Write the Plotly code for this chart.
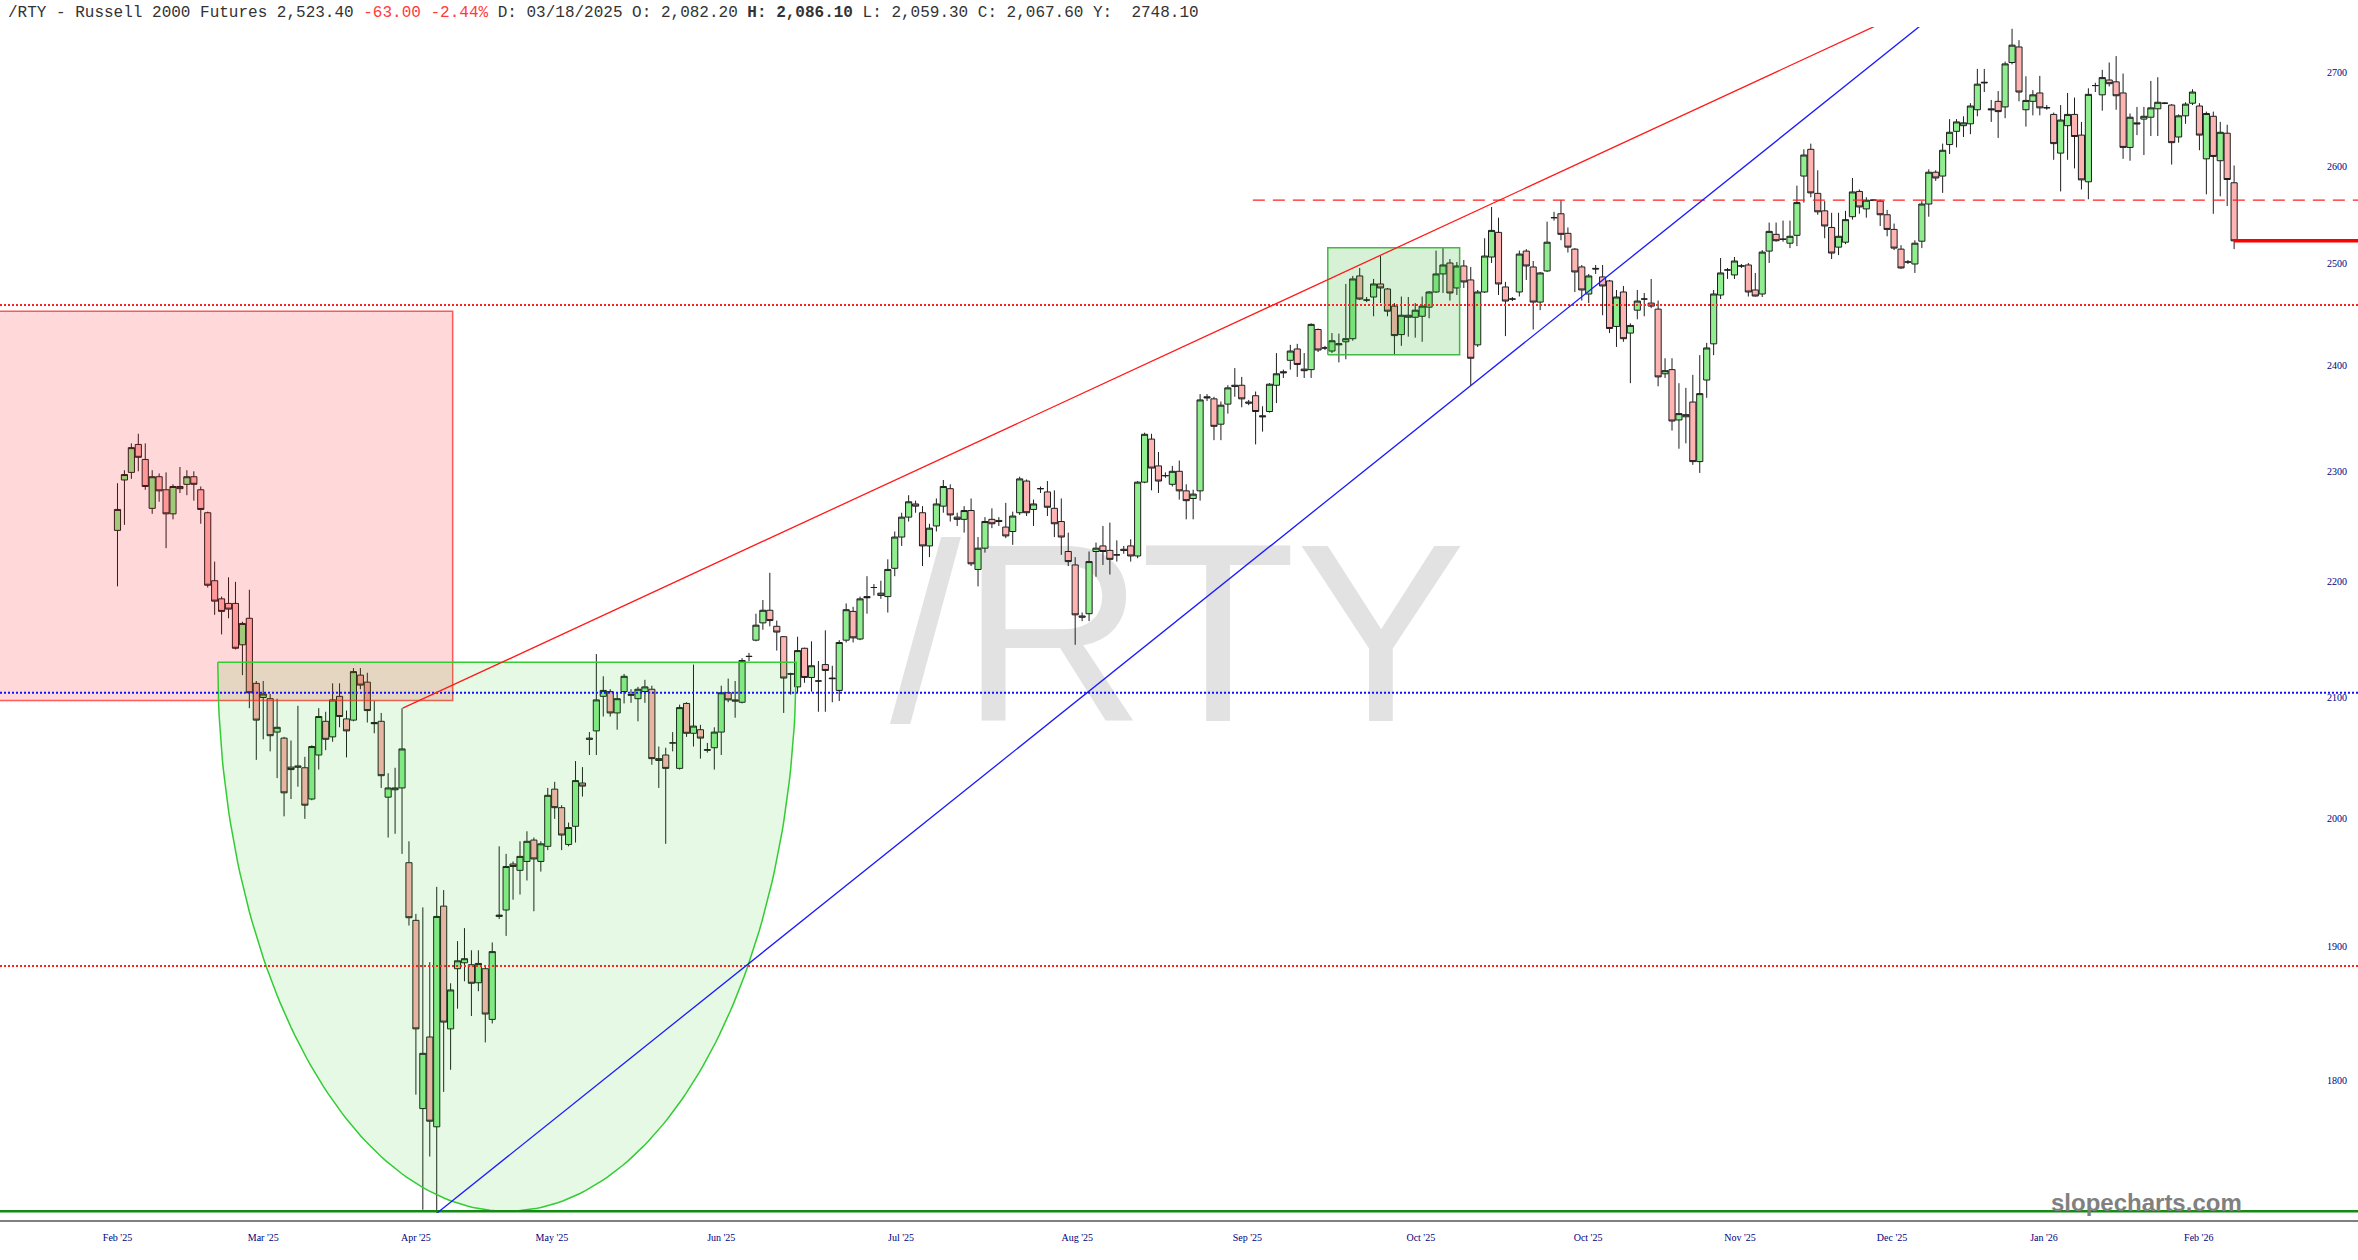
import numpy as np
import plotly.graph_objects as go

# daily bars incl. the short Sunday-evening sessions, Feb 2025 -> Feb 2026
opens = [2246, 2292, 2299, 2325, 2311, 2266, 2295, 2283, 2261, 2286, 2288, 2295, 2283, 2262, 2201, 2185, 2181, 2181, 2145, 2168,
         2112, 2100, 2099, 2071, 2066, 2042, 2043, 2041.5, 2016, 2052, 2080, 2067, 2101, 2082, 2081, 2119, 2113, 2079, 2080, 2017.5,
         2023.5, 2025, 1965, 1920, 1780, 1832, 1767, 1931, 1838, 1883, 1887.5, 1886, 1872.4, 1883, 1845, 1923, 1928, 1964, 1959, 1966,
         1983, 1966, 1978, 2024, 2009, 1979.5, 1994, 2029, 2066, 2072, 2101, 2105, 2087, 2105, 2102.5, 2099, 2105, 2107, 2049, 2052,
         2062, 2041, 2095, 2070, 2073, 2056.5, 2058, 2071, 2104, 2098, 2096, 2135, 2149, 2164, 2175, 2161, 2152, 2120, 2109, 2142,
         2117, 2114, 2128, 2116.5, 2106, 2149, 2174, 2150, 2187, 2195, 2188, 2187, 2212, 2240, 2258, 2270, 2262, 2232, 2250, 2268,
         2284, 2258, 2256, 2264, 2211, 2230, 2256, 2255, 2249, 2245, 2262, 2291, 2265, 2284, 2281, 2266, 2254, 2227, 2215, 2170,
         2172, 2227, 2232, 2228, 2224, 2229, 2232, 2223, 2290, 2330, 2305, 2296, 2288, 2300, 2282, 2275, 2282, 2370, 2368, 2344,
         2363, 2381, 2381, 2365, 2371, 2352, 2356, 2381, 2394, 2405, 2416, 2396.5, 2396, 2435, 2417, 2414, 2420, 2423, 2426, 2488,
         2464, 2467, 2480, 2475, 2458, 2430, 2447, 2447, 2448, 2457, 2472, 2490, 2501, 2476, 2498, 2484, 2420, 2472, 2507, 2532,
         2477, 2465, 2472, 2513, 2497, 2462, 2493, 2547, 2551, 2531, 2515, 2497, 2470, 2495.6, 2487, 2483, 2438, 2472, 2431.5, 2454,
         2465, 2461, 2455, 2392, 2396, 2348, 2351, 2365, 2309, 2386, 2421, 2469, 2494, 2489, 2498, 2499, 2474, 2470, 2513, 2530,
         2525, 2521, 2529, 2590, 2618, 2572, 2554, 2537, 2517, 2522, 2548, 2574, 2556, 2565, 2564, 2550, 2535, 2515, 2502, 2500,
         2523, 2561, 2594, 2590, 2623, 2637, 2643, 2645, 2660, 2689.6, 2661, 2669, 2663, 2711, 2728, 2660, 2669, 2678, 2662.4, 2655,
         2614, 2643, 2655, 2633, 2584, 2686, 2676, 2692, 2690, 2678, 2620, 2646, 2650, 2652, 2661, 2667, 2665, 2631, 2653.5, 2667,
         2664, 2608, 2653, 2606, 2635, 2583]
highs = [2289, 2301, 2326, 2335, 2326, 2301, 2298, 2299, 2288, 2304, 2301, 2300, 2286, 2263, 2218, 2187, 2204, 2200, 2165, 2193,
         2114, 2114, 2103, 2099, 2067, 2064, 2093, 2050.5, 2060, 2091, 2088, 2112, 2112, 2089, 2125, 2125, 2121, 2097, 2087, 2037,
         2041.5, 2091, 1982, 1925, 1930, 1888, 1946, 1943.5, 1872, 1904, 1914, 1897, 1897, 1885, 1903, 1978, 1972, 1966, 1982, 1990,
         1985, 1982, 2025, 2030, 2011, 1997, 2047, 2042, 2071, 2137, 2118, 2107, 2104, 2120, 2107, 2109, 2115, 2110, 2059, 2058,
         2071, 2094, 2096, 2128, 2077, 2062, 2075, 2110, 2116, 2114, 2133.5, 2138, 2172, 2184, 2208, 2166, 2152.5, 2121, 2152, 2142.5,
         2148, 2131, 2157.5, 2127, 2149, 2181, 2178, 2187, 2205, 2198, 2201, 2220, 2245, 2262, 2278, 2273, 2268, 2252, 2275, 2292,
         2288, 2262, 2268, 2275, 2240, 2258, 2266, 2258, 2271, 2263, 2295, 2292.5, 2274, 2286, 2291, 2282.5, 2275, 2244, 2222, 2173,
         2227, 2235, 2250, 2253, 2237, 2232, 2238, 2291, 2336, 2335, 2318, 2299, 2305, 2310, 2288, 2283, 2372.5, 2372.5, 2370, 2365.5,
         2381, 2397.5, 2389, 2367, 2375, 2361, 2383, 2412, 2396, 2420, 2421, 2412, 2441, 2436, 2419, 2431.5, 2431, 2480, 2488, 2496,
         2467, 2485, 2508, 2476, 2461, 2467.5, 2467, 2461, 2467.5, 2473, 2513.5, 2517, 2505, 2502, 2504, 2497, 2474, 2526, 2558, 2547,
         2482, 2467, 2513.5, 2515, 2503, 2492, 2543, 2553, 2565, 2537, 2516, 2499, 2490, 2499, 2499, 2484, 2474, 2478, 2441, 2474,
         2471, 2485, 2463.5, 2407, 2407, 2383, 2378.5, 2391, 2410, 2422, 2474, 2506, 2496, 2507, 2500, 2501, 2491, 2514, 2542, 2542,
         2544, 2544, 2580, 2618, 2624, 2596, 2564, 2552, 2552, 2554, 2588, 2576, 2568, 2566, 2565.5, 2555, 2541, 2519, 2504, 2524,
         2564, 2597, 2596, 2624, 2650, 2650, 2653, 2667, 2704, 2704, 2670.5, 2680, 2712, 2748, 2735.5, 2696, 2681, 2696.5, 2665, 2657,
         2665, 2678, 2673, 2647, 2683, 2689, 2703, 2711, 2718, 2699, 2656, 2663, 2663, 2691, 2695, 2668, 2666, 2655, 2668, 2682,
         2667, 2658, 2658, 2647, 2644, 2601]
lows = [2196, 2251, 2293, 2300, 2283, 2261, 2272, 2230, 2256, 2280, 2278, 2273, 2252, 2195, 2171, 2154, 2168, 2141, 2119, 2091,
        2048, 2065, 2055, 2033, 2002, 2016, 2026, 2000, 2015, 2040, 2056, 2063, 2075, 2050, 2080, 2107, 2079, 2070, 2025, 1985,
        1988, 1972, 1916, 1790, 1709, 1746, 1707, 1792, 1808, 1853, 1873.5, 1847.5, 1866, 1828, 1842, 1921, 1908, 1936, 1940, 1951,
        1927, 1958, 1975, 2000, 1975, 1978, 1981, 2018, 2052, 2052, 2084, 2084, 2073, 2095, 2095.5, 2080, 2095.5, 2044, 2025, 1980,
        2055, 2040, 2067, 2059, 2049, 2054, 2040, 2052, 2096, 2083, 2095, 2131, 2148, 2158, 2161, 2140, 2087, 2102.5, 2104, 2112.5,
        2105, 2088, 2088, 2096, 2097, 2147, 2147, 2149, 2172, 2188, 2185, 2173, 2205, 2232, 2254, 2262, 2214, 2222, 2245, 2262,
        2254, 2250, 2244, 2214, 2196, 2226, 2248, 2250, 2239, 2233, 2260, 2259, 2250, 2280, 2259, 2240, 2224, 2214, 2145, 2165.5,
        2165.5, 2204.5, 2215, 2206.5, 2218, 2225, 2218, 2221, 2289, 2282.5, 2280, 2294, 2286, 2274, 2256, 2256, 2273, 2366, 2329, 2329,
        2354, 2370, 2360, 2362, 2325, 2337, 2355, 2364, 2388, 2396, 2389, 2388, 2388, 2413, 2415, 2412, 2403, 2406, 2424, 2464,
        2462, 2448, 2461, 2448, 2410, 2419, 2428, 2427, 2423, 2446, 2471, 2471, 2463.5, 2469, 2476, 2381, 2418, 2471, 2501, 2469,
        2428.5, 2463, 2467.5, 2484, 2435, 2454, 2492, 2544, 2524, 2511.5, 2472, 2463.5, 2461, 2490, 2449, 2431.5, 2418, 2423, 2383, 2445,
        2448, 2456, 2380, 2388, 2338, 2321, 2326, 2306, 2298.5, 2369, 2410, 2465, 2485, 2485, 2496, 2467.5, 2467.5, 2467, 2501, 2522.5,
        2522.5, 2516, 2518, 2562.5, 2568, 2550, 2526, 2505, 2509, 2520, 2545, 2551, 2547, 2564, 2538.5, 2528, 2514, 2495, 2500, 2491,
        2516, 2548, 2585, 2572.5, 2613, 2620, 2631, 2634, 2653, 2679, 2647, 2630, 2651, 2709, 2669, 2642, 2654, 2654, 2660, 2607,
        2574, 2607, 2598, 2576, 2566, 2679, 2659, 2685, 2660, 2608, 2606, 2633, 2612, 2632, 2632, 2666, 2602, 2625, 2645, 2665,
        2617, 2571, 2551, 2569, 2559, 2515]
closes = [2265, 2297, 2322, 2313, 2286, 2295, 2282, 2261, 2286, 2284, 2295, 2288, 2265, 2197, 2183, 2174, 2176, 2142, 2163.5, 2104,
          2081, 2103, 2068, 2075, 2021, 2040, 2042, 2011, 2059, 2084, 2065, 2098, 2084, 2072, 2122, 2110.5, 2089, 2078, 2035, 2025,
          2025, 2057, 1922, 1838, 1820, 1771, 1923, 1843, 1867, 1889, 1890.6, 1872, 1887, 1849, 1896, 1924, 1962, 1962, 1970, 1982,
          1968, 1980, 2019, 2009, 1987, 1993, 2031, 2026.5, 2065, 2098, 2106, 2087, 2099, 2118, 2102, 2107, 2109, 2049, 2047.5, 2041,
          2062, 2091.5, 2070, 2076, 2066, 2056, 2071, 2104, 2098, 2097, 2131.5, 2135, 2162, 2175, 2166, 2156, 2116.5, 2120, 2140, 2117,
          2127, 2114, 2123, 2116, 2147, 2175.5, 2151, 2185, 2186, 2195, 2190, 2211, 2240, 2258, 2272, 2268, 2232, 2248, 2270, 2286,
          2260, 2256, 2264, 2216, 2230, 2254, 2252, 2254, 2241, 2259, 2293, 2262, 2270, 2284, 2267, 2252, 2240, 2218, 2171, 2169,
          2218, 2230, 2227, 2220, 2224, 2228, 2223, 2290, 2334.5, 2303, 2291, 2296, 2300, 2282, 2273, 2279, 2367, 2369, 2342, 2362,
          2378.5, 2380, 2368, 2364, 2356, 2351, 2382, 2392, 2393, 2414, 2401, 2395, 2440, 2415, 2417, 2424, 2421, 2426, 2485, 2465,
          2464, 2480, 2476, 2453, 2429, 2449, 2449, 2454, 2458, 2472, 2490, 2499, 2471, 2498, 2482, 2407, 2472, 2508, 2534, 2480,
          2463, 2465, 2510, 2498, 2462, 2491, 2522, 2547, 2530, 2517, 2492, 2474, 2488, 2495, 2478, 2436, 2467, 2426, 2439, 2463,
          2465, 2458, 2389, 2395, 2347, 2354, 2353, 2309, 2373, 2417, 2470, 2491, 2494, 2503, 2498, 2472, 2468, 2512, 2533, 2523.5,
          2525, 2528, 2562.5, 2612, 2572.5, 2553, 2538.5, 2511, 2528, 2545, 2573.5, 2558, 2565, 2565, 2550, 2535, 2516, 2496, 2502, 2521,
          2561, 2594, 2588, 2617, 2636, 2647, 2646, 2664, 2687.5, 2689, 2660, 2658, 2709.5, 2730, 2679, 2670, 2676, 2662, 2662, 2624,
          2649, 2655, 2631.5, 2586, 2676.5, 2686, 2694.6, 2688, 2675, 2620, 2652, 2645, 2653, 2662, 2668, 2667, 2625, 2653.5, 2666, 2679,
          2633, 2656, 2610.5, 2636, 2586.4, 2523.4]

bar_idx = list(range(len(closes)))

month_pos = [0, 21, 43, 62.6, 87, 112.9, 138.3, 162.8, 187.8, 211.9, 233.8, 255.7, 277.6, 299.9]
month_labels = ["Feb '25", "Mar '25", "Apr '25", "May '25", "Jun '25", "Jul '25", "Aug '25",
                "Sep '25", "Oct '25", "Oct '25", "Nov '25", "Dec '25", "Jan '26", "Feb '26"]
price_ticks = [1800, 1900, 2000, 2100, 2200, 2300, 2400, 2500, 2600, 2700]

# drawn levels, zones and trend lines (price units, bar-index units)
support_low = 1708
blue_level = 2104
red_level_hi = 2459
red_level_lo = 1885
resist_dash = 2565
resist_dash_from = 163.6
last_price = 2523.4
red_trend = ([41.1, 260], [2091, 2775])
blue_trend = ([46.1, 262], [1707, 2765])
pink_zone = (-20, 48.3, 2097.5, 2453)
box_zone = (174.4, 193.4, 2410.4, 2516.3)
cup_left, cup_right, cup_top, cup_bottom = 14.45, 97.8, 2130, 1708

X0, X1 = -16.93, 322.85
Y0, Y1 = 1702, 2750

fig = go.Figure()

fig.add_trace(go.Candlestick(
    x=bar_idx, open=opens, high=highs, low=lows, close=closes,
    increasing=dict(fillcolor="#90ee90", line=dict(color="#1e1e1e", width=1)),
    decreasing=dict(fillcolor="#ffb4b4", line=dict(color="#1e1e1e", width=1)),
    whiskerwidth=0, showlegend=False, hoverinfo="skip",
))


def hline(y, color, dash="solid", width=1.5, x_from=X0):
    fig.add_trace(go.Scatter(x=[x_from, X1], y=[y, y], mode="lines", hoverinfo="skip",
                             line=dict(color=color, dash=dash, width=width), showlegend=False))


def zone(x0, x1, y0, y1, fill, edge, width=1.5):
    fig.add_trace(go.Scatter(x=[x0, x1, x1, x0, x0], y=[y0, y0, y1, y1, y0], mode="lines",
                             fill="toself", fillcolor=fill, hoverinfo="skip",
                             line=dict(color=edge, width=width), showlegend=False))


# pink resistance zone
zone(*pink_zone, "rgba(255,0,0,0.15)", "rgba(255,40,40,0.75)")

# cup (lower half of an ellipse)
cx = (cup_left + cup_right) / 2
half_w = (cup_right - cup_left) / 2
lt, lb = np.log10(cup_top), np.log10(cup_bottom)
theta = np.linspace(0, np.pi, 161)
cup_x = [cup_left] + list(cx + half_w * np.cos(theta))
cup_y = [cup_top] + list(10 ** (lt - (lt - lb) * np.sin(theta)))
fig.add_trace(go.Scatter(x=cup_x, y=cup_y, mode="lines", fill="toself",
                         fillcolor="rgba(0,200,0,0.1)", line=dict(color="#33cc33", width=1.5),
                         hoverinfo="skip", showlegend=False))

# consolidation box
zone(*box_zone, "rgba(0,170,0,0.16)", "#44b844")

# horizontal levels
hline(red_level_hi, "#ff2020", dash="2px,2px", width=2)
hline(blue_level, "#1010ff", dash="2px,2px", width=2)
hline(red_level_lo, "#ff2020", dash="2px,2px", width=2)
hline(resist_dash, "#ff2020", dash="12px,8px", width=1.3, x_from=resist_dash_from)
hline(support_low, "#138a13", width=2.5)
hline(last_price, "#ff0000", width=3.5, x_from=bar_idx[-1])

# trend lines
fig.add_trace(go.Scatter(x=red_trend[0], y=red_trend[1], mode="lines", hoverinfo="skip",
                         line=dict(color="#ff1a1a", width=1.3), showlegend=False))
fig.add_trace(go.Scatter(x=blue_trend[0], y=blue_trend[1], mode="lines", hoverinfo="skip",
                         line=dict(color="#1a1aff", width=1.3), showlegend=False))

header = ("/RTY - Russell 2000 Futures 2,523.40 "
          "<span style='color:#ff3b3b'>-63.00 -2.44%</span> D: 03/18/2025 O: 2,082.20 "
          "<b>H: 2,086.10</b> L: 2,059.30 C: 2,067.60 Y:\u00a0\u00a02748.10")

fig.update_layout(
    width=2358, height=1260,
    margin=dict(l=0, r=0, t=27, b=40),
    paper_bgcolor="white", plot_bgcolor="white",
    boxgap=0.06, boxgroupgap=0.06,
    showlegend=False,
    xaxis=dict(
        range=[X0, X1], rangeslider=dict(visible=False),
        tickvals=month_pos, ticktext=month_labels,
        tickfont=dict(family="Liberation Serif, Times New Roman, serif", size=10, color="#000080"),
        ticks="outside", ticklen=7, tickcolor="rgba(0,0,0,0)",
        showgrid=False, zeroline=False,
        showline=True, linecolor="#808080", linewidth=2,
    ),
    yaxis=dict(
        type="log", range=[np.log10(Y0), np.log10(Y1)], side="right",
        tickvals=price_ticks, ticktext=[str(v) for v in price_ticks],
        ticklabelposition="inside", ticks="", ticklabelstandoff=8,
        tickfont=dict(family="Liberation Serif, Times New Roman, serif", size=10, color="#000080"),
        showgrid=False, zeroline=False, showline=False,
    ),
    shapes=[dict(
        type="rect", xref="paper", yref="paper", x0=0.3996, x1=0.5996, y0=0.4122, y1=0.6122,
        line=dict(width=0), fillcolor="rgba(0,0,0,0)", layer="below",
        label=dict(text="/RTY", textposition="middle center",
                   font=dict(family="Liberation Sans, Arial, sans-serif", size=255, color="#e2e2e2")),
    )],
    annotations=[
        dict(text=header, xref="paper", yref="paper", x=0, y=1, xanchor="left", yanchor="middle",
             xshift=6, yshift=14.5, showarrow=False,
             font=dict(family="Liberation Mono, Courier New, monospace", size=16, color="#333333")),
        dict(text="<b>slopecharts.com</b>", xref="paper", yref="paper", x=0.9105, y=0.0143,
             xanchor="center", yanchor="middle", showarrow=False,
             font=dict(family="Liberation Sans Narrow, Arial Narrow, Liberation Sans, sans-serif",
                       size=24, color="#808080")),
    ],
)

fig.write_html("out.html", config={"displayModeBar": False},
               post_script="document.body.style.margin='0';document.body.style.overflow='hidden';")
